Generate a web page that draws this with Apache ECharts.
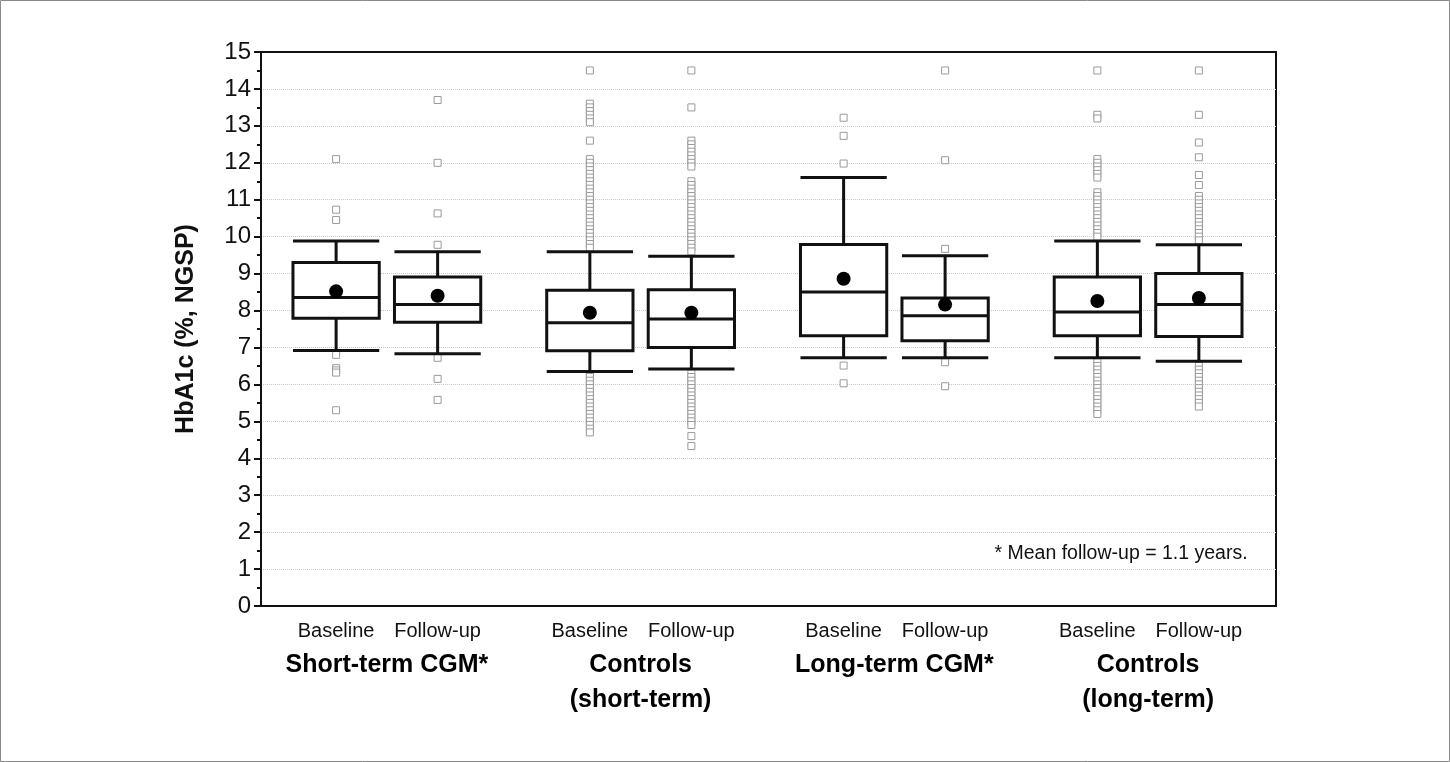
<!DOCTYPE html>
<html>
<head>
<meta charset="utf-8">
<script src="https://cdn.jsdelivr.net/npm/echarts@6/dist/echarts.min.js"></script>
<style>
html,body{margin:0;padding:0;background:#fff;}
#chart{width:1450px;height:762px;}
</style>
</head>
<body>
<div id="chart"></div>
<script>
// ---------------- DATA ----------------
const boxLabels = ['Baseline', 'Follow-up', 'Baseline', 'Follow-up', 'Baseline', 'Follow-up', 'Baseline', 'Follow-up'];
const groupLabels = ['Short-term CGM*', 'Controls\n(short-term)', 'Long-term CGM*', 'Controls\n(long-term)'];
const yTicks = [0, 1, 2, 3, 4, 5, 6, 7, 8, 9, 10, 11, 12, 13, 14, 15];

const lowWhisker  = [6.92, 6.83, 6.35, 6.42, 6.72, 6.72, 6.72, 6.63];
const q1          = [7.79, 7.68, 6.91, 7.00, 7.32, 7.18, 7.32, 7.30];
const median      = [8.35, 8.16, 7.67, 7.77, 8.50, 7.86, 7.96, 8.16];
const q3          = [9.30, 8.91, 8.55, 8.56, 9.79, 8.34, 8.91, 9.00];
const highWhisker = [9.88, 9.59, 9.59, 9.47, 11.60, 9.48, 9.88, 9.78];
const means       = [8.52, 8.40, 7.94, 7.94, 8.86, 8.16, 8.26, 8.34];

const outliers1 = [12.1, 10.73, 10.45, 6.8, 6.44, 6.38, 6.32, 5.3];
const outliers2 = [13.7, 12.0, 10.63, 9.78, 6.72, 6.15, 5.58];
const outliers3 = [14.5, 13.6, 13.5, 13.4, 13.3, 13.2, 13.1, 12.6,
  12.1, 12.0, 11.9, 11.8, 11.7, 11.6, 11.5, 11.4, 11.3, 11.2, 11.1, 11.0,
  10.9, 10.8, 10.7, 10.6, 10.5, 10.4, 10.3, 10.2, 10.1, 10.0, 9.9, 9.8, 9.7,
  6.25, 6.2, 6.1, 6.0, 5.9, 5.8, 5.7, 5.6, 5.5, 5.4, 5.3, 5.2, 5.1, 5.0, 4.9, 4.8, 4.7];
const outliers4 = [14.5, 13.5, 12.6, 12.5, 12.4, 12.3, 12.2, 12.1, 12.0, 11.9,
  11.5, 11.4, 11.3, 11.2, 11.1, 11.0, 10.9, 10.8, 10.7, 10.6, 10.5, 10.4, 10.3,
  10.2, 10.1, 10.0, 9.9, 9.8, 9.7, 9.6,
  6.3, 6.2, 6.1, 6.0, 5.9, 5.8, 5.7, 5.6, 5.5, 5.4, 5.3, 5.2, 5.1, 5.0, 4.9, 4.6, 4.33];
const outliers5 = [13.22, 12.73, 11.98, 6.51, 6.03];
const outliers6 = [14.5, 12.07, 9.67, 6.6, 5.95];
const outliers7 = [14.5, 13.3, 13.2, 12.1, 12.0, 11.9, 11.8, 11.7, 11.6,
  11.2, 11.1, 11.0, 10.9, 10.8, 10.7, 10.6, 10.5, 10.4, 10.3, 10.2, 10.1, 10.0,
  6.6, 6.5, 6.4, 6.3, 6.2, 6.1, 6.0, 5.9, 5.8, 5.7, 5.6, 5.5, 5.4, 5.3, 5.2];
const outliers8 = [14.5, 13.3, 12.55, 12.15, 11.67, 11.4, 11.1, 11.0, 10.9, 10.8,
  10.7, 10.6, 10.5, 10.4, 10.3, 10.2, 10.1, 10.0, 9.9,
  6.5, 6.4, 6.3, 6.2, 6.1, 6.0, 5.9, 5.8, 5.7, 5.6, 5.5, 5.4];
const outlierSets = [outliers1, outliers2, outliers3, outliers4, outliers5, outliers6, outliers7, outliers8];

const yAxisTitle = 'HbA1c (%, NGSP)';
const footnote = '* Mean follow-up = 1.1 years.';

// ---------------- LAYOUT (x slot positions on a 0..10 value axis) ----------------
const slotPos = [0.74, 1.74, 3.24, 4.24, 5.74, 6.74, 8.24, 9.24];
const groupPos = [1.24, 3.74, 6.24, 8.74];

const boxData = slotPos.map((x, i) => [x, lowWhisker[i], q1[i], median[i], q3[i], highWhisker[i]]);
const meanData = slotPos.map((x, i) => [x, means[i]]);
const outlierData = [];
outlierSets.forEach((arr, i) => arr.forEach(v => outlierData.push([slotPos[i], v])));

const chart = echarts.init(document.getElementById('chart'));

function renderBox(params, api) {
  const x = api.value(0);
  const pLow = api.coord([x, api.value(1)]);
  const pQ1 = api.coord([x, api.value(2)]);
  const pMed = api.coord([x, api.value(3)]);
  const pQ3 = api.coord([x, api.value(4)]);
  const pHigh = api.coord([x, api.value(5)]);
  const hw = api.size([0.85, 0])[0] / 2;
  const cx = pMed[0];
  const st = { stroke: '#111', lineWidth: 3, fill: null };
  return {
    type: 'group',
    children: [
      { type: 'line', shape: { x1: cx, y1: pQ3[1], x2: cx, y2: pHigh[1] }, style: st },
      { type: 'line', shape: { x1: cx, y1: pQ1[1], x2: cx, y2: pLow[1] }, style: st },
      { type: 'line', shape: { x1: cx - hw, y1: pHigh[1], x2: cx + hw, y2: pHigh[1] }, style: st },
      { type: 'line', shape: { x1: cx - hw, y1: pLow[1], x2: cx + hw, y2: pLow[1] }, style: st },
      { type: 'rect', shape: { x: cx - hw, y: pQ3[1], width: 2 * hw, height: pQ1[1] - pQ3[1] },
        style: { stroke: '#111', lineWidth: 3, fill: '#fff' } },
      { type: 'line', shape: { x1: cx - hw, y1: pMed[1], x2: cx + hw, y2: pMed[1] }, style: st }
    ]
  };
}

const option = {
  animation: false,
  backgroundColor: '#fff',
  grid: { left: 261, right: 174, top: 52, bottom: 156, show: true, borderColor: '#111', borderWidth: 2, backgroundColor: 'transparent' },
  xAxis: {
    type: 'value', min: 0, max: 10,
    axisLine: { show: false }, axisTick: { show: false }, axisLabel: { show: false }, splitLine: { show: false }
  },
  yAxis: {
    type: 'value', min: yTicks[0], max: yTicks[yTicks.length - 1], interval: 1,
    name: yAxisTitle, nameLocation: 'middle', nameGap: 62, nameRotate: 90,
    nameTextStyle: { fontFamily: 'Liberation Sans, Arial, sans-serif', fontWeight: 'bold', fontSize: 25, color: '#111' },
    axisLine: { show: true, lineStyle: { color: '#111', width: 2 } },
    axisTick: { show: true, inside: false, length: 7, lineStyle: { color: '#111', width: 2 } },
    minorTick: { show: true, splitNumber: 2, length: 4, lineStyle: { color: '#111', width: 2 } },
    axisLabel: { fontFamily: 'Liberation Sans, Arial, sans-serif', fontSize: 24, color: '#111', margin: 10 },
    splitLine: { show: true, showMinLine: false, showMaxLine: false, lineStyle: { color: '#c8c8c8', width: 1, type: 'dotted' } }
  },
  series: [
    {
      type: 'scatter', name: 'outliers', data: outlierData, symbol: 'rect', symbolSize: 7, z: 2,
      itemStyle: { color: '#fff', borderColor: '#9a9a9a', borderWidth: 1, opacity: 1 }
    },
    {
      type: 'custom', name: 'boxes', data: boxData, renderItem: renderBox, z: 3,
      encode: { x: 0, y: [1, 2, 3, 4, 5] }
    },
    {
      type: 'scatter', name: 'mean', data: meanData, symbol: 'circle', symbolSize: 14, z: 4,
      itemStyle: { color: '#000', opacity: 1 }
    }
  ]
};
chart.setOption(option);

// labels positioned via the axis scale
const graphics = [
  { type: 'rect', shape: { x: 0.5, y: 0.5, width: 1449, height: 761 }, style: { fill: null, stroke: '#8a8a8a', lineWidth: 1 }, silent: true }
];
const baseY = chart.convertToPixel({ gridIndex: 0 }, [0, 0])[1];
slotPos.forEach((x, i) => {
  const px = chart.convertToPixel({ gridIndex: 0 }, [x, 0])[0];
  graphics.push({
    type: 'text', x: px, y: baseY + 25,
    style: { text: boxLabels[i], fontFamily: 'Liberation Sans, Arial, sans-serif', fontSize: 20, fill: '#111', align: 'center', verticalAlign: 'middle' }
  });
});
groupPos.forEach((x, i) => {
  const px = chart.convertToPixel({ gridIndex: 0 }, [x, 0])[0];
  graphics.push({
    type: 'text', x: px, y: baseY + 42,
    style: { text: groupLabels[i], fontFamily: 'Liberation Sans, Arial, sans-serif', fontSize: 25, fontWeight: 'bold', fill: '#000', align: 'center', verticalAlign: 'top', lineHeight: 35 }
  });
});
const fnPos = chart.convertToPixel({ gridIndex: 0 }, [9.72, 1.43]);
graphics.push({
  type: 'text', x: fnPos[0], y: fnPos[1],
  style: { text: footnote, fontFamily: 'Liberation Sans, Arial, sans-serif', fontSize: 19.5, fill: '#111', align: 'right', verticalAlign: 'middle' }
});
chart.setOption({ graphic: graphics });
</script>
</body>
</html>
